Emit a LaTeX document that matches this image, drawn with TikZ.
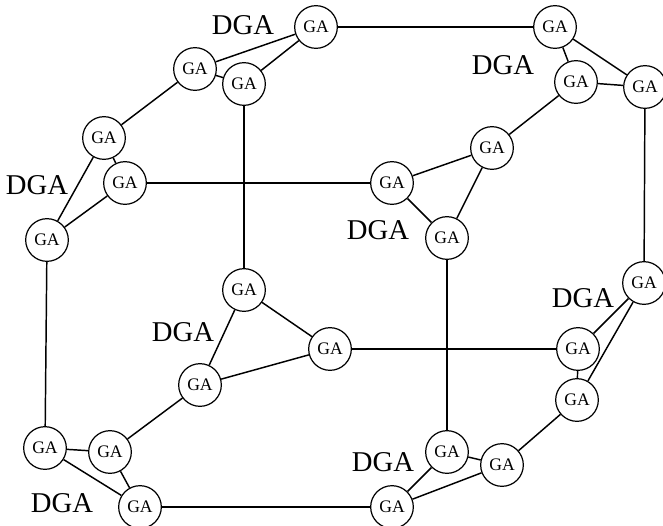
\documentclass[tikz,border=0pt]{standalone}
\usepackage{fontspec}
\setmainfont{Liberation Serif}
\begin{document}
\begin{tikzpicture}[x=0.75pt,y=-0.75pt,
  ga/.style={circle,draw,line width=0.9pt,minimum size=32pt,inner sep=0pt,font=\fontsize{13.2}{13}\selectfont,fill=white},
  dga/.style={font=\fontsize{21.5}{22}\selectfont,inner sep=0pt},
  link/.style={line width=1.1pt}]
\useasboundingbox (0,0) rectangle (663,525);
% nodes
\node[ga] (A1) at (316,27) {GA};
\node[ga] (A2) at (195,69) {GA};
\node[ga] (A3) at (244,84) {GA};
\node[ga] (B1) at (555,27) {GA};
\node[ga] (B2) at (576,82) {GA};
\node[ga] (B3) at (645,87) {GA};
\node[ga] (C1) at (104,138) {GA};
\node[ga] (C2) at (125,183) {GA};
\node[ga] (C3) at (47,240) {GA};
\node[ga] (D1) at (492,148) {GA};
\node[ga] (D2) at (392,183) {GA};
\node[ga] (D3) at (447,238) {GA};
\node[ga] (E1) at (244,290) {GA};
\node[ga] (E2) at (330,349) {GA};
\node[ga] (E3) at (200,385) {GA};
\node[ga] (F1) at (644,283) {GA};
\node[ga] (F2) at (578,349) {GA};
\node[ga] (F3) at (577,400) {GA};
\node[ga] (G1) at (45,448) {GA};
\node[ga] (G2) at (110,452) {GA};
\node[ga] (G3) at (140,507) {GA};
\node[ga] (H1) at (447,452) {GA};
\node[ga] (H2) at (502,465) {GA};
\node[ga] (H3) at (392,507) {GA};
% labels
\node[dga] (LA) at (243,25) {DGA};
\node[dga] (LB) at (503,65) {DGA};
\node[dga] (LC) at (37,185) {DGA};
\node[dga] (LD) at (378,230) {DGA};
\node[dga] (LE) at (183,332) {DGA};
\node[dga] (LF) at (583,298) {DGA};
\node[dga] (LG) at (62,503) {DGA};
\node[dga] (LH) at (383,462) {DGA};
% triangles
\draw[link] (A1)--(A2) (A1)--(A3) (A2)--(A3);
\draw[link] (B1)--(B2) (B1)--(B3) (B2)--(B3);
\draw[link] (C1)--(C2) (C1)--(C3) (C2)--(C3);
\draw[link] (D1)--(D2) (D1)--(D3) (D2)--(D3);
\draw[link] (E1)--(E2) (E1)--(E3) (E2)--(E3);
\draw[link] (F1)--(F2) (F1)--(F3) (F2)--(F3);
\draw[link] (G1)--(G2) (G1)--(G3) (G2)--(G3);
\draw[link] (H1)--(H2) (H1)--(H3) (H2)--(H3);
% inter-cluster links
\draw[link] (A1)--(B1);
\draw[link] (A2)--(C1);
\draw[link] (A3)--(E1);
\draw[link] (B2)--(D1);
\draw[link] (B3)--(F1);
\draw[link] (C2)--(D2);
\draw[link] (C3)--(G1);
\draw[link] (D3)--(H1);
\draw[link] (E2)--(F2);
\draw[link] (E3)--(G2);
\draw[link] (G3)--(H3);
\draw[link] (H2)--(F3);
\end{tikzpicture}
\end{document}
